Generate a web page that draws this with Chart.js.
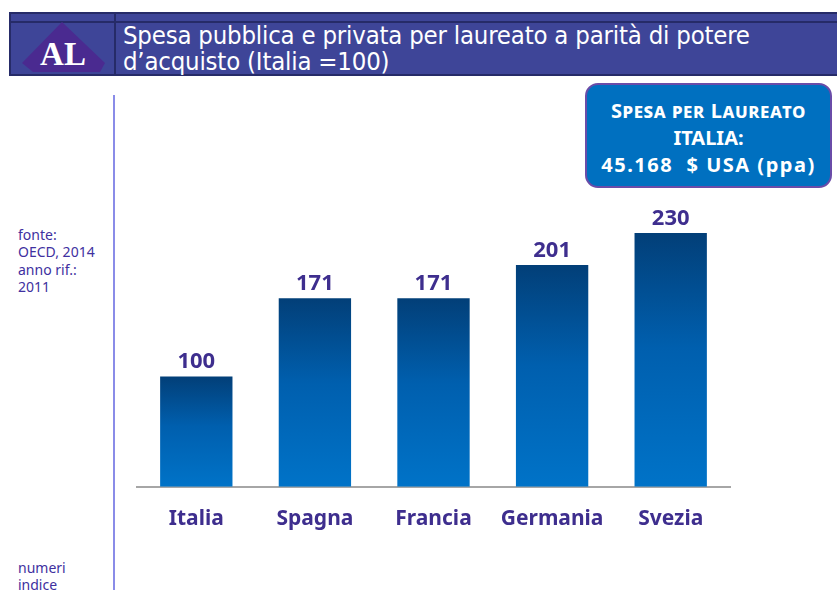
<!DOCTYPE html>
<html>
<head>
<meta charset="utf-8">
<script src="https://cdn.jsdelivr.net/npm/chart.js@4"></script>
<style>
  body { margin: 0; width: 837px; height: 590px; overflow: hidden; background: #fff; position: relative; font-family: "Noto Sans", sans-serif; }
  #header { position: absolute; left: 9px; top: 12px; width: 828px; height: 64px; background: #3e4598; border: 2px solid #262b68; border-right: none; box-sizing: border-box; }
  #strip { position: absolute; left: 0; top: 0; right: 0; height: 7px; border-bottom: 2px solid #262b68; }
  #divider { position: absolute; left: 103px; top: 0; bottom: 0; width: 2px; background: #262b68; }
  #title { position: absolute; left: 112px; top: 8px; color: #fff; font-family: "DejaVu Sans Condensed", "DejaVu Sans", sans-serif; font-size: 25.5px; line-height: 26px; letter-spacing: -0.2px; white-space: nowrap; }
  #logo { position: absolute; left: 9px; top: 7px; }
  #vline { position: absolute; left: 113px; top: 95px; width: 2px; height: 495px; background: #8a8ce8; }
  .note { position: absolute; left: 18px; color: #4030a0; font-size: 14px; line-height: 17.3px; }
  #box { position: absolute; left: 585px; top: 83px; width: 247px; height: 105px; box-sizing: border-box; background: #0070c0; border: 2px solid #6a4ca8; border-radius: 13px; color: #fff; text-align: center; font-weight: bold; font-size: 20px; line-height: 27px; padding-top: 12px; }
  #box .sc { font-variant: small-caps; letter-spacing: 0.6px; }
  #box .num { letter-spacing: 1.5px; }
  #chart { position: absolute; left: 0; top: 0; }
</style>
</head>
<body>
<div id="header">
  <div id="strip"></div>
  <div id="divider"></div>
  <svg id="logo" width="94" height="56">
    <polygon points="42,1 85,42 80,51 13,51 2,42" fill="#4a2a90"/>
    <text x="43" y="44" text-anchor="middle" fill="#fff" font-family="Liberation Serif, DejaVu Serif, serif" font-weight="bold" font-size="33">AL</text>
  </svg>
  <div id="title">Spesa pubblica e privata per laureato a parità di potere<br>d’acquisto (Italia =100)</div>
</div>
<div id="vline"></div>
<div class="note" style="top:226px">fonte:<br>OECD, 2014<br>anno rif.:<br>2011</div>
<div class="note" style="top:559px">numeri<br>indice</div>
<div id="box"><span class="sc">Spesa per Laureato</span><br>ITALIA:<br><span class="num">45.168&nbsp; $ USA (ppa)</span></div>
<canvas id="chart" width="837" height="590"></canvas>
<script>
const categories = ["Italia", "Spagna", "Francia", "Germania", "Svezia"];
const values = [100, 171, 171, 201, 230];

const labelColor = "#3e2e8e";

// value labels above each bar
const valueLabels = {
  id: "valueLabels",
  afterDatasetsDraw(chart) {
    const ctx = chart.ctx;
    const meta = chart.getDatasetMeta(0);
    ctx.save();
    ctx.font = "bold 22px 'Noto Sans', sans-serif";
    ctx.fillStyle = labelColor;
    ctx.textAlign = "center";
    ctx.textBaseline = "alphabetic";
    meta.data.forEach((bar, i) => {
      ctx.fillText(String(values[i]), bar.x, bar.y - 8);
    });
    ctx.restore();
  }
};

// each bar gets its own dark-to-light gradient
function barGradient(context) {
  const chart = context.chart;
  const yScale = chart.scales.y;
  if (!yScale || context.dataIndex === undefined) return "#0060b0";
  const top = yScale.getPixelForValue(values[context.dataIndex]);
  const bottom = yScale.getPixelForValue(0);
  if (!isFinite(top) || !isFinite(bottom) || top === bottom) return "#0060b0";
  const g = chart.ctx.createLinearGradient(0, top, 0, bottom);
  g.addColorStop(0, "#023f78");
  g.addColorStop(0.45, "#005fae");
  g.addColorStop(1, "#0073c8");
  return g;
}

new Chart(document.getElementById("chart"), {
  type: "bar",
  data: {
    labels: categories,
    datasets: [{
      data: values,
      backgroundColor: barGradient,
      borderWidth: 0,
      barPercentage: 0.61,
      categoryPercentage: 1
    }]
  },
  options: {
    responsive: false,
    animation: false,
    layout: { padding: { left: 137, right: 107, top: 200, bottom: 46 } },
    plugins: { legend: { display: false }, tooltip: { enabled: false } },
    scales: {
      y: { display: false, min: 0, max: 260 },
      x: {
        grid: { display: false },
        border: { display: true, color: "#a6a6a6", width: 2 },
        ticks: {
          color: labelColor,
          font: { family: "'Noto Sans', sans-serif", size: 21, weight: "bold" },
          padding: 12
        }
      }
    }
  },
  plugins: [valueLabels]
});
</script>
</body>
</html>
